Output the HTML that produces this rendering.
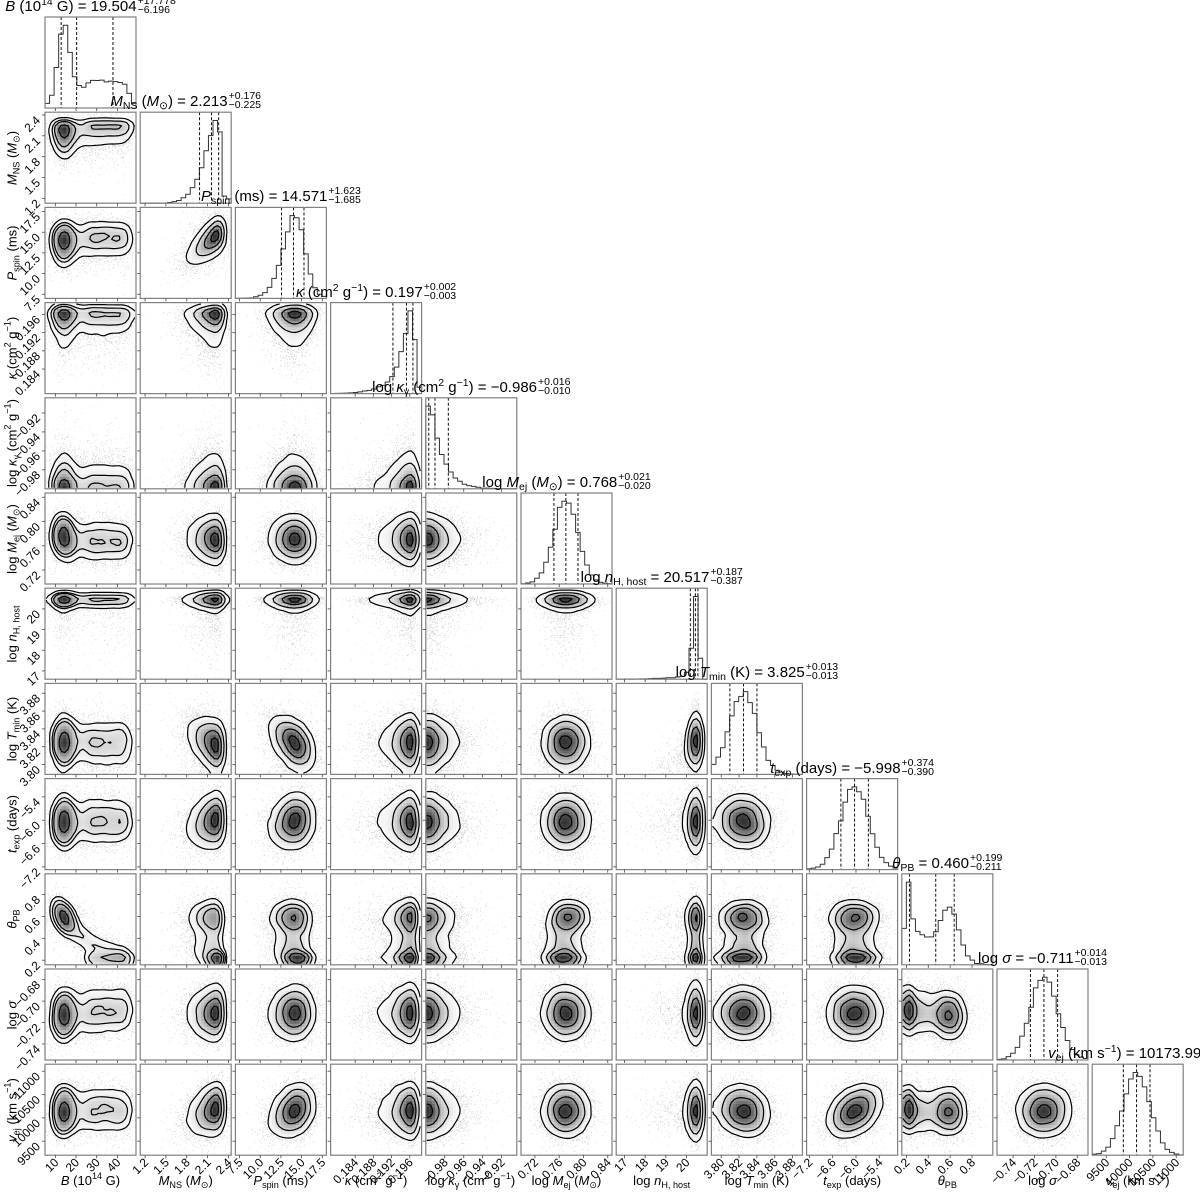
<!DOCTYPE html>
<html><head><meta charset="utf-8">
<style>
html,body{margin:0;padding:0;background:#fff;}
#wrap{position:relative;width:1200px;height:1200px;overflow:hidden;font-family:"Liberation Sans","DejaVu Sans",sans-serif;color:#000;}
svg{position:absolute;left:0;top:0;}
.tt{position:absolute;white-space:nowrap;font-size:15px;transform:translateX(-50%);line-height:20px;}
.pm{display:inline-block;vertical-align:middle;font-size:10.5px;line-height:9px;text-align:left;margin-left:1px;position:relative;top:-1px;}
.xl{position:absolute;white-space:nowrap;font-size:13px;transform:translateX(-50%);top:1173px;}
.yl{position:absolute;white-space:nowrap;font-size:13px;transform:translate(-50%,-50%) rotate(-90deg);left:12px;}
sub{font-size:70%;vertical-align:-3px;line-height:0;}
sup{font-size:70%;vertical-align:6px;line-height:0;}
</style></head><body>
<div id="wrap">
<svg id="sv" width="1200" height="1200" xmlns="http://www.w3.org/2000/svg"></svg>

<div class="tt" style="left:90.5px;top:-3px"><i>B</i> (10<sup>14</sup> G) = 19.504<span class="pm">+17.778<br>−6.196</span></div>
<div class="tt" style="left:185.7px;top:92px"><i>M</i><sub>NS</sub> (<i>M</i><sub>⊙</sub>) = 2.213<span class="pm">+0.176<br>−0.225</span></div>
<div class="tt" style="left:280.9px;top:187px"><i>P</i><sub>spin</sub> (ms) = 14.571<span class="pm">+1.623<br>−1.685</span></div>
<div class="tt" style="left:376.1px;top:283px"><i>κ</i> (cm<sup>2</sup> g<sup>−1</sup>) = 0.197<span class="pm">+0.002<br>−0.003</span></div>
<div class="tt" style="left:471.3px;top:378px">log <i>κ</i><sub>γ</sub> (cm<sup>2</sup> g<sup>−1</sup>) = −0.986<span class="pm">+0.016<br>−0.010</span></div>
<div class="tt" style="left:566.5px;top:473px">log <i>M</i><sub>ej</sub> (<i>M</i><sub>⊙</sub>) = 0.768<span class="pm">+0.021<br>−0.020</span></div>
<div class="tt" style="left:661.7px;top:568px">log <i>n</i><sub>H, host</sub> = 20.517<span class="pm">+0.187<br>−0.387</span></div>
<div class="tt" style="left:756.9px;top:663px">log <i>T</i><sub>min</sub> (K) = 3.825<span class="pm">+0.013<br>−0.013</span></div>
<div class="tt" style="left:852.1px;top:759px"><i>t</i><sub>exp</sub> (days) = −5.998<span class="pm">+0.374<br>−0.390</span></div>
<div class="tt" style="left:947.3px;top:854px"><i>θ</i><sub>PB</sub> = 0.460<span class="pm">+0.199<br>−0.211</span></div>
<div class="tt" style="left:1042.5px;top:949px">log <i>σ</i> = −0.711<span class="pm">+0.014<br>−0.013</span></div>
<div class="tt" style="left:1137.7px;top:1044px"><i>v</i><sub>ej</sub> (km s<sup>−1</sup>) = 10173.991<span class="pm">+…<br>−…</span></div>

<div class="xl" style="left:90.5px"><i>B</i> (10<sup>14</sup> G)</div>
<div class="xl" style="left:185.7px"><i>M</i><sub>NS</sub> (<i>M</i><sub>⊙</sub>)</div>
<div class="xl" style="left:280.9px"><i>P</i><sub>spin</sub> (ms)</div>
<div class="xl" style="left:376.1px"><i>κ</i> (cm<sup>2</sup> g<sup>−1</sup>)</div>
<div class="xl" style="left:471.3px">log <i>κ</i><sub>γ</sub> (cm<sup>2</sup> g<sup>−1</sup>)</div>
<div class="xl" style="left:566.5px">log <i>M</i><sub>ej</sub> (<i>M</i><sub>⊙</sub>)</div>
<div class="xl" style="left:661.7px">log <i>n</i><sub>H, host</sub></div>
<div class="xl" style="left:756.9px">log <i>T</i><sub>min</sub> (K)</div>
<div class="xl" style="left:852.1px"><i>t</i><sub>exp</sub> (days)</div>
<div class="xl" style="left:947.3px"><i>θ</i><sub>PB</sub></div>
<div class="xl" style="left:1042.5px">log <i>σ</i></div>
<div class="xl" style="left:1137.7px"><i>v</i><sub>ej</sub> (km s<sup>−1</sup>)</div>

<div class="yl" style="top:157.7px"><i>M</i><sub>NS</sub> (<i>M</i><sub>⊙</sub>)</div>
<div class="yl" style="top:252.9px"><i>P</i><sub>spin</sub> (ms)</div>
<div class="yl" style="top:348.1px"><i>κ</i> (cm<sup>2</sup> g<sup>−1</sup>)</div>
<div class="yl" style="top:443.3px">log <i>κ</i><sub>γ</sub> (cm<sup>2</sup> g<sup>−1</sup>)</div>
<div class="yl" style="top:538.5px">log <i>M</i><sub>ej</sub> (<i>M</i><sub>⊙</sub>)</div>
<div class="yl" style="top:633.7px">log <i>n</i><sub>H, host</sub></div>
<div class="yl" style="top:728.9px">log <i>T</i><sub>min</sub> (K)</div>
<div class="yl" style="top:824.1px"><i>t</i><sub>exp</sub> (days)</div>
<div class="yl" style="top:919.3px"><i>θ</i><sub>PB</sub></div>
<div class="yl" style="top:1014.5px">log <i>σ</i></div>
<div class="yl" style="top:1109.7px"><i>v</i><sub>ej</sub> (km s<sup>−1</sup>)</div>
</div>
<script>
(function(){
var NS="http://www.w3.org/2000/svg";
var sv=document.getElementById("sv");
var S=91,P=95.2;
function L(j){return 45+P*j;} function T(i){return 17+P*i;}
var seed=12345;
function rnd(){seed|=0;seed=seed+0x6D2B79F5|0;var t=Math.imul(seed^seed>>>15,1|seed);t=t+Math.imul(t^t>>>7,61|t)^t;return((t^t>>>14)>>>0)/4294967296;}
function gn(){var u=rnd()||1e-9,v=rnd();return Math.sqrt(-2*Math.log(u))*Math.cos(2*Math.PI*v);}
var R=[[5,49,[10,20,30,40],0],[1.13,2.44,[1.2,1.5,1.8,2.1,2.4],1],[7,18,[7.5,10,12.5,15,17.5],1],
[0.1786,0.1986,[0.184,0.188,0.192,0.196],3],[-1.0,-0.904,[-0.98,-0.96,-0.94,-0.92],2],
[0.697,0.847,[0.72,0.76,0.80,0.84],2],[16.6,21.0,[17,18,19,20],0],[3.789,3.891,[3.80,3.82,3.84,3.86,3.88],2],
[-7.27,-4.93,[-7.2,-6.6,-6.0,-5.4],1],[0.158,0.99,[0.2,0.4,0.6,0.8],1],[-0.755,-0.67,[-0.74,-0.72,-0.70,-0.68],2],[9200,11150,[9500,10000,10500,11000],0]];
var N=24000,D=[];for(var k=0;k<12;k++)D.push(new Float32Array(N));
for(var n=0;n<N;n++){
 var lowT=rnd()<0.2,u,th;
 if(lowT){u=0.45+0.55*rnd();th=0.07+0.03*gn();}
 else{u=rnd()<0.5?0.14+0.05*gn():0.15+0.85*Math.pow(rnd(),1.3);th=0.72*Math.exp(-2.4*u)+0.07*gn()+0.02;}
 var B=0.08+0.85*u+0.04*gn();
 var M=lowT?0.9-Math.abs(gn())*0.08:0.88-Math.abs(gn())*0.17;
 var Ps=0.66+0.8*(M-0.8)+0.085*gn();
 var ka=0.93-Math.abs(gn())*0.1; if(rnd()<0.25)ka-=Math.abs(gn())*0.25;
 var kg=0.01-Math.log(rnd()||1e-9)*0.12;
 var Me=0.47+0.12*gn()+(u<0.2?0.06:0);
 var nH=0.91-Math.abs(gn())*0.05; if(rnd()<0.15)nH-=-Math.log(rnd()||1e-9)*0.2;
 var Tm=0.35+0.12*gn()-0.6*(Ps-0.66)+1.0*Math.min(0,nH-0.85);
 var te=0.54+0.14*gn()+0.3*(M-0.8);
 var sg=0.52+0.14*gn()-0.12*(th-0.3);
 var ve=0.5+0.12*gn()+0.35*(te-0.54)+0.3*(Ps-0.66);
 var v=[B,M,Ps,ka,kg,Me,nH,Tm,te,th,sg,ve];
 var wide=rnd()<0.22;
 for(var k=0;k<12;k++){var x=v[k];if(wide&&k!=6)x+=0.12*gn();D[k][n]=x;}
}
function el(t,a,p){var e=document.createElementNS(NS,t);for(var k in a)e.setAttribute(k,a[k]);(p||sv).appendChild(e);return e;}
var defs=el("defs",{});
var frame="#808080";
function frac(k,val){return (val-R[k][0])/(R[k][1]-R[k][0]);}
function fmt(k,val){var s=val.toFixed(R[k][3]);return s.replace("-","−");}
function ticksX(j,i,labels){var x0=L(j),y0=T(i)+S;R[j][2].forEach(function(tv){var x=x0+frac(j,tv)*S;el("line",{x1:x,y1:y0,x2:x,y2:y0+3,stroke:"#444","stroke-width":0.8});
 if(labels){var t=el("text",{x:x+4,y:y0+8,"font-size":12,"text-anchor":"end",transform:"rotate(-45 "+(x+4)+" "+(y0+8)+")","font-family":"Liberation Sans, sans-serif"});t.textContent=fmt(j,tv);}});}
function ticksY(i,j,labels){var x0=L(j),y0=T(i);R[i][2].forEach(function(tv){var y=y0+(1-frac(i,tv))*S;el("line",{x1:x0,y1:y,x2:x0-3,y2:y,stroke:"#444","stroke-width":0.8});
 if(labels){var t=el("text",{x:x0-4,y:y+6,"font-size":12,"text-anchor":"end",transform:"rotate(-45 "+(x0-4)+" "+(y+6)+")","font-family":"Liberation Sans, sans-serif"});t.textContent=fmt(i,tv);}});}
for(var i=0;i<12;i++){
 var x0=L(i),y0=T(i),nb=20,h=new Array(nb).fill(0),arr=[];
 for(var n=0;n<N;n++){var v=D[i][n];if(v>=0&&v<1){h[Math.floor(v*nb)]++;arr.push(v);}}
 var mx=Math.max.apply(null,h),d="M"+x0+" "+(y0+S);
 for(var b=0;b<nb;b++){var yy=y0+S-h[b]/(mx*1.1)*S;d+=" L"+(x0+b*S/nb)+" "+yy+" L"+(x0+(b+1)*S/nb)+" "+yy;}
 d+=" L"+(x0+S)+" "+(y0+S);
 el("path",{d:d,fill:"none",stroke:"#333","stroke-width":1});
 arr.sort(function(a,b){return a-b;});
 [0.16,0.5,0.84].forEach(function(q){var x=x0+arr[Math.floor(q*arr.length)]*S;el("line",{x1:x,y1:y0,x2:x,y2:y0+S,stroke:"#111","stroke-width":1,"stroke-dasharray":"3,2"});});
 el("rect",{x:x0,y:y0,width:S,height:S,fill:"none",stroke:frame,"stroke-width":1.2});
 ticksX(i,i,i==11);
}
var G=30;
for(var i=1;i<12;i++)for(var j=0;j<i;j++){
 var x0=L(j),y0=T(i);
 var cid="c"+i+"_"+j;var cp=el("clipPath",{id:cid},defs);el("rect",{x:x0,y:y0,width:S,height:S},cp);
 var g=el("g",{"clip-path":"url(#"+cid+")"});
 var dd="";for(var n=0;n<N;n+=5){var xv=D[j][n],yv=D[i][n];if(xv<0||xv>1||yv<0||yv>1)continue;var px=(x0+xv*S).toFixed(1),py=(y0+(1-yv)*S).toFixed(1);dd+="M"+px+" "+py+"h0.7v0.7h-0.7z";}
 el("path",{d:dd,fill:"rgba(0,0,0,0.22)"},g);
 var H=[];for(var a=0;a<G;a++){H.push(new Array(G).fill(0));}
 for(var n=0;n<N;n++){var xv=D[j][n],yv=D[i][n];if(xv<0||xv>=1||yv<0||yv>=1)continue;H[Math.floor(yv*G)][Math.floor(xv*G)]++;}
 for(var pass=0;pass<2;pass++){var H2=[];for(var a=0;a<G;a++){H2.push([]);for(var b=0;b<G;b++){var s=0,w=0;for(var da=-1;da<=1;da++)for(var db=-1;db<=1;db++){var aa=a+da,bb=b+db;if(aa<0||bb<0||aa>=G||bb>=G)continue;var ww=(da==0?2:1)*(db==0?2:1);s+=H[aa][bb]*ww;w+=ww;}H2[a].push(s/w);}}H=H2;}
 var flat=[],tot=0,mx=0;for(var a=0;a<G;a++)for(var b=0;b<G;b++){flat.push(H[a][b]);tot+=H[a][b];if(H[a][b]>mx)mx=H[a][b];}
 flat.sort(function(a,b){return b-a;});
 var targets=[0.118,0.393,0.675,0.865],lev=[],cum=0,ti=0;
 for(var q=0;q<flat.length&&ti<4;q++){cum+=flat[q];while(ti<4&&cum>=targets[ti]*tot){lev.push(flat[q]);ti++;}}
 while(lev.length<4)lev.push(flat[flat.length-1]);
 var lo=lev[3],cs=S/G;
 for(var a=0;a<G;a++)for(var b=0;b<G;b++){var v=H[a][b];if(v<lo)continue;var gg=Math.round(250-200*Math.pow(Math.min(1,(v-lo)/(mx-lo+1e-9)),1.2));
  el("rect",{x:(x0+b*cs).toFixed(2),y:(y0+S-(a+1)*cs).toFixed(2),width:(cs+0.3).toFixed(2),height:(cs+0.3).toFixed(2),fill:"rgb("+gg+","+gg+","+gg+")"},g);}
 function P_(a,b){return [x0+(b+0.5)*cs,y0+S-(a+0.5)*cs];}
 lev.forEach(function(lv){var path="";
  for(var a=0;a<G-1;a++)for(var b=0;b<G-1;b++){
   var v0=H[a][b],v1=H[a][b+1],v2=H[a+1][b+1],v3=H[a+1][b];
   var c=(v0>=lv?1:0)|(v1>=lv?2:0)|(v2>=lv?4:0)|(v3>=lv?8:0);if(c==0||c==15)continue;
   var p0=P_(a,b),p1=P_(a,b+1),p2=P_(a+1,b+1),p3=P_(a+1,b);
   function ip(pa,pb,va,vb){var t=(lv-va)/(vb-va);return [pa[0]+(pb[0]-pa[0])*t,pa[1]+(pb[1]-pa[1])*t];}
   var e0=function(){return ip(p0,p1,v0,v1);},e1=function(){return ip(p1,p2,v1,v2);},e2=function(){return ip(p3,p2,v3,v2);},e3=function(){return ip(p0,p3,v0,v3);};
   var segs={1:[[e3,e0]],2:[[e0,e1]],3:[[e3,e1]],4:[[e1,e2]],5:[[e3,e2],[e0,e1]],6:[[e0,e2]],7:[[e3,e2]],8:[[e2,e3]],9:[[e0,e2]],10:[[e0,e3],[e1,e2]],11:[[e1,e2]],12:[[e1,e3]],13:[[e0,e1]],14:[[e0,e3]]}[c];
   segs.forEach(function(sg){var A=sg[0](),B=sg[1]();path+="M"+A[0].toFixed(1)+" "+A[1].toFixed(1)+"L"+B[0].toFixed(1)+" "+B[1].toFixed(1);});
  }
  el("path",{d:path,fill:"none",stroke:"#000","stroke-width":1.2,"stroke-linecap":"round"},g);
 });
 el("rect",{x:x0,y:y0,width:S,height:S,fill:"none",stroke:frame,"stroke-width":1.2});
 ticksX(j,i,i==11);
 ticksY(i,j,j==0);
}
})();
</script>
</body></html>
